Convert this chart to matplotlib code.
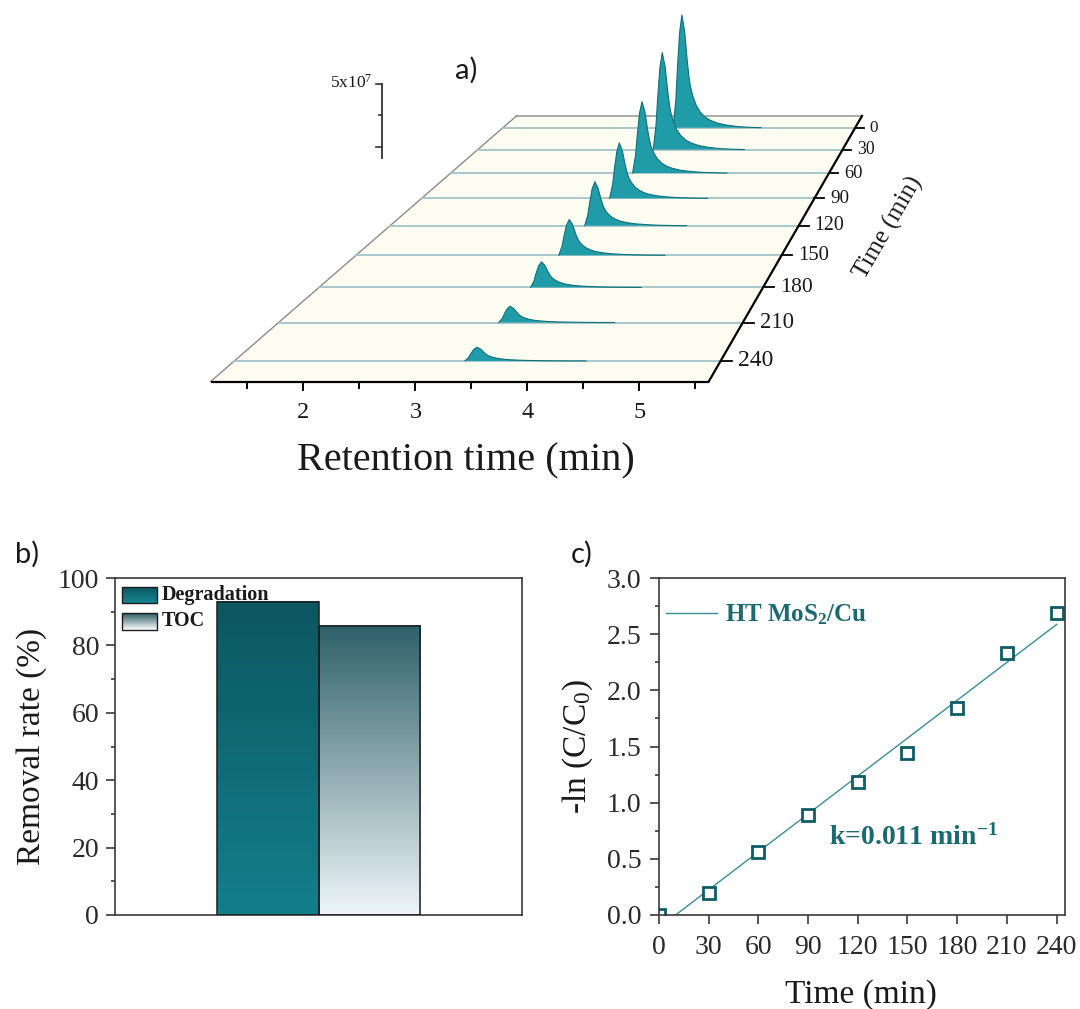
import numpy as np
import matplotlib
matplotlib.use("Agg")
import matplotlib.pyplot as plt
from matplotlib.patches import Polygon, Rectangle
from matplotlib.colors import LinearSegmentedColormap
from matplotlib.ticker import MultipleLocator, FormatStrFormatter

plt.rcParams['font.family'] = ['Liberation Serif', 'DejaVu Serif']
plt.rcParams['mathtext.fontset'] = 'custom'
plt.rcParams['mathtext.rm'] = 'Liberation Serif'
plt.rcParams['mathtext.bf'] = 'Liberation Serif:bold'
plt.rcParams['mathtext.it'] = 'Liberation Serif:italic'

# ---------------- data ----------------
# (a) HPLC chromatograms sampled during the reaction
sample_times = [0, 30, 60, 90, 120, 150, 180, 210, 240]                 # min
peak_rt = [3.43, 3.42, 3.42, 3.41, 3.40, 3.40, 3.40, 3.39, 3.39]        # min
peak_height = [8.94, 7.43, 5.27, 3.94, 3.01, 2.35, 1.61, 0.98, 0.79]    # x10^7 counts
# normalised peak profile: offset from apex (min) and relative intensity
profile_dt = [-0.11, -0.076, -0.055, -0.029, 0.0, 0.034, 0.067, 0.088, 0.11,
              0.139, 0.18, 0.23, 0.29, 0.36, 0.45, 0.57, 0.70, 0.86, 1.0]
profile_rel = [0.0, 0.25, 0.54, 0.84, 1.0, 0.86, 0.6, 0.46, 0.36,
               0.28, 0.2, 0.14, 0.095, 0.065, 0.04, 0.022, 0.01, 0.003, 0.0]
rt_ticks = [2, 3, 4, 5]
rt_minor = [1.5, 2.5, 3.5, 4.5, 5.5]

# (b) removal efficiency
removal_labels = ['Degradation', 'TOC']
removal_rate = [93.0, 85.8]

# (c) pseudo-first-order kinetics
kin_time = [0, 30, 60, 90, 120, 150, 180, 210, 240]
kin_lnc = [0.0, 0.20, 0.56, 0.89, 1.18, 1.44, 1.84, 2.33, 2.69]

# ---------------- figure ----------------
fig = plt.figure(figsize=(10.8, 10.09), dpi=100)

# ===== (a) perspective waterfall, drawn on a pixel canvas =====
ax_a = fig.add_axes([0, 0, 1, 1])
ax_a.set_xlim(0, 1080)
ax_a.set_ylim(1009, 0)
ax_a.axis('off')

RT_MIN, RT_MAX = 1.17, 5.62
T_BACK, T_FRONT = -17.0, 255.0
CAM_DEPTH = 870.7
X_VANISH, RT_VANISH, X_FOCAL = 1209.0, 10.089, 68925.0
Y_HORIZON, Y_FOCAL, Z_FOCAL = -485.4, 533800.0, 10971.0


def project(rt, t, z=0.0):
    rt = np.asarray(rt, float)
    t = np.asarray(t, float)
    z = np.asarray(z, float)
    d = CAM_DEPTH - t
    x = X_VANISH + (rt - RT_VANISH) * X_FOCAL / d
    y = Y_HORIZON + (Y_FOCAL - z * Z_FOCAL) / d
    return x, y


def persp_scale(t):
    return (CAM_DEPTH - T_FRONT) / (CAM_DEPTH - t)


# floor
fx, fy = project([RT_MIN, RT_MAX, RT_MAX, RT_MIN], [T_FRONT, T_FRONT, T_BACK, T_BACK])
ax_a.add_patch(Polygon(np.column_stack([fx, fy]), closed=True, facecolor='#fdfdf2',
                       edgecolor='none', zorder=1))
bx, by = project([RT_MIN, RT_MAX], [T_BACK, T_BACK])
ax_a.plot(bx, by, color='#9c9c9c', lw=1.2, zorder=2)
lx, ly = project([RT_MIN, RT_MIN], [T_FRONT, T_BACK])
ax_a.plot(lx, ly, color='#8c8c8c', lw=1.0, zorder=2)

dt = np.asarray(profile_dt)
rel = np.asarray(profile_rel)
for i, (t, rt0, h) in enumerate(zip(sample_times, peak_rt, peak_height)):
    zb = 3 + 2 * i
    rx, ry = project([RT_MIN, RT_MAX], [t, t])
    ax_a.plot(rx, ry, color='#a3c3ca', lw=1.3, zorder=zb)
    px, py = project(rt0 + dt, np.full_like(dt, t), h * rel)
    ax_a.add_patch(Polygon(np.column_stack([px, py]), closed=True, facecolor='#1f9ca8',
                           edgecolor='none', zorder=zb + 1))
    ax_a.plot(px, py, color='#0f6f79', lw=0.8, zorder=zb + 1)

# front (retention time) axis
ex, ey = project([RT_MIN, RT_MAX], [T_FRONT, T_FRONT])
ax_a.plot(ex, ey, color='black', lw=1.6, zorder=40, solid_capstyle='butt')
for rt in rt_ticks + rt_minor:
    tx, ty = project(rt, T_FRONT)
    ln = 8 if rt in rt_ticks else 6
    ax_a.plot([tx, tx], [ty, ty + ln], color='black', lw=1.4, zorder=40)
for rt in rt_ticks:
    tx, ty = project(rt, T_FRONT)
    ax_a.text(tx, ty + 31, str(rt), ha='center', va='center', fontsize=17.5, color='#1a1a1a')
ax_a.text(466, ty + 79, 'Retention time (min)', ha='center', va='center',
          fontsize=29, color='#1a1a1a')

# side (sampling time) axis
sx, sy = project([RT_MAX, RT_MAX], [T_FRONT, T_BACK])
ax_a.plot(sx, sy, color='black', lw=1.6, zorder=40)
for t in sample_times:
    s = persp_scale(t)
    tx, ty = project(RT_MAX, t)
    ax_a.plot([tx, tx + 12 * s], [ty, ty], color='black', lw=1.3, zorder=40)
    ax_a.text(tx + 12 * s + 6, ty, str(t), ha='left', va='center',
              fontsize=17.5 * s, color='#1a1a1a')
ax_a.text(889, 228, 'Time (min)', ha='center', va='center', rotation=60,
          fontsize=18, color='#1a1a1a')

# intensity scale bar (0, 2.5, 5 x10^7 at the depth of the first sample)
bar_x, bar_y0 = 382.0, 147.0
z_px = Z_FOCAL / CAM_DEPTH
ax_a.plot([bar_x, bar_x], [bar_y0 + 0.9 * z_px, bar_y0 - 5 * z_px], color='#333333', lw=1.3)
for zt, ln in [(0, 6), (2.5, 3), (5, 6)]:
    ax_a.plot([bar_x - ln, bar_x], [bar_y0 - zt * z_px] * 2, color='#333333', lw=1.2)
ax_a.text(bar_x - 9, bar_y0 - 5 * z_px - 1, r'5x10$^7$', ha='right', va='center',
          fontsize=12.5, color='#1a1a1a')
ax_a.text(466, 70, 'a)', ha='center', va='center', fontsize=21,
          family=['Lato', 'DejaVu Sans'], color='#1a1a1a')

# ===== (b) removal rate bars =====
spine_c = '#3a3a3a'
tick_c = '#2a2a2a'
ax_b = fig.add_axes([115 / 1080, 94 / 1009, 407 / 1080, 337 / 1009])
bar_pos = [1.5, 2.5]
bar_grad = [('#0c5760', '#137f8b'), ('#2f6069', '#eef6f8')]
bars = ax_b.bar(bar_pos, removal_rate, width=1.0, facecolor='none',
                edgecolor='#1c1c1c', linewidth=1.1, zorder=3)
grad = np.linspace(0, 1, 256).reshape(-1, 1)
for bar, (c_top, c_bot) in zip(bars, bar_grad):
    x0, w, h = bar.get_x(), bar.get_width(), bar.get_height()
    cmap = LinearSegmentedColormap.from_list('g', [c_bot, c_top])
    ax_b.imshow(grad, cmap=cmap, origin='lower', aspect='auto',
                extent=(x0, x0 + w, 0, h), zorder=2)

# legend with gradient swatches
for (c_top, c_bot), label, (y0, y1) in zip([('#0c5760', '#168592'), ('#2a5a62', '#ffffff')],
                                           removal_labels, [(0.926, 0.973), (0.846, 0.896)]):
    cmap = LinearSegmentedColormap.from_list('g', [c_bot, c_top])
    ax_b.imshow(grad, cmap=cmap, origin='lower', aspect='auto',
                extent=(0.017, 0.103, y0, y1), transform=ax_b.transAxes, zorder=4)
    ax_b.add_patch(Rectangle((0.017, y0), 0.086, y1 - y0, transform=ax_b.transAxes,
                             facecolor='none', edgecolor='#1c1c1c', lw=1.0, zorder=5))
    ax_b.text(0.115, 0.5 * (y0 + y1), label, transform=ax_b.transAxes, ha='left',
              va='center', fontsize=14.5, fontweight='bold', color='#1a1a1a')

ax_b.set_xlim(0, 4)
ax_b.set_ylim(0, 100)
ax_b.set_xticks([])
ax_b.yaxis.set_major_locator(MultipleLocator(20))
ax_b.yaxis.set_minor_locator(MultipleLocator(10))
ax_b.set_ylabel('Removal rate (%)', fontsize=24, color='#1a1a1a')
ax_b.yaxis.set_label_coords(-0.167, 0.5)
ax_b.text(-0.215, 1.07, 'b)', transform=ax_b.transAxes, ha='center', va='center',
          fontsize=21, family=['Lato', 'DejaVu Sans'], color='#1a1a1a')

# ===== (c) kinetics =====
ax_c = fig.add_axes([658.8 / 1080, 94 / 1009, 406.2 / 1080, 337 / 1009])
slope, intercept = np.polyfit(kin_time, kin_lnc, 1)
fit_t = np.array([kin_time[0], kin_time[-1]], float)
ax_c.plot(fit_t, slope * fit_t + intercept, color='#3a8e97', lw=1.0,
          label=r'$\mathbf{HT\ MoS_2/Cu}$')
ax_c.plot(kin_time, kin_lnc, 's', mfc='white', mec='#0e5d66', mew=2.0, ms=8, ls='none')
ax_c.set_xlim(0, 245)
ax_c.set_ylim(0, 3)
ax_c.set_xticks(kin_time)
ax_c.yaxis.set_major_locator(MultipleLocator(0.5))
ax_c.yaxis.set_minor_locator(MultipleLocator(0.25))
ax_c.yaxis.set_major_formatter(FormatStrFormatter('%.1f'))
leg = ax_c.legend(loc='upper left', bbox_to_anchor=(0.018, 0.928), frameon=False,
                  borderpad=0, borderaxespad=0, handlelength=2.05, handletextpad=0.3,
                  fontsize=18, labelcolor='#1a6a72')
ax_c.text(0.419, 0.231, r'k=%.3f min$^{\mathbf{-1}}$' % slope, transform=ax_c.transAxes,
          ha='left', va='center', fontsize=20, fontweight='bold', color='#1a6a72')
ax_c.set_xlabel('Time (min)', fontsize=24, color='#1a1a1a')
ax_c.xaxis.set_label_coords(0.498, -0.19)
ax_c.set_ylabel(r'-ln (C/C$_\mathrm{0}$)', fontsize=24, color='#1a1a1a')
ax_c.yaxis.set_label_coords(-0.157, 0.5)
ax_c.text(-0.19, 1.07, 'c)', transform=ax_c.transAxes, ha='center', va='center',
          fontsize=21, family=['Lato', 'DejaVu Sans'], color='#1a1a1a')

for ax in (ax_b, ax_c):
    for sp in ax.spines.values():
        sp.set_color(spine_c)
        sp.set_linewidth(1.2)
    ax.tick_params(which='both', direction='out', top=False, right=False,
                   color=spine_c, width=1.2, labelsize=20, labelcolor=tick_c)
    ax.tick_params(which='major', length=6.5)
    ax.tick_params(which='minor', length=3.2)
ax_b.tick_params(axis='y', pad=5)
ax_c.tick_params(axis='y', pad=6)
ax_c.tick_params(axis='x', pad=8)

fig.savefig('out.png', dpi=100)
